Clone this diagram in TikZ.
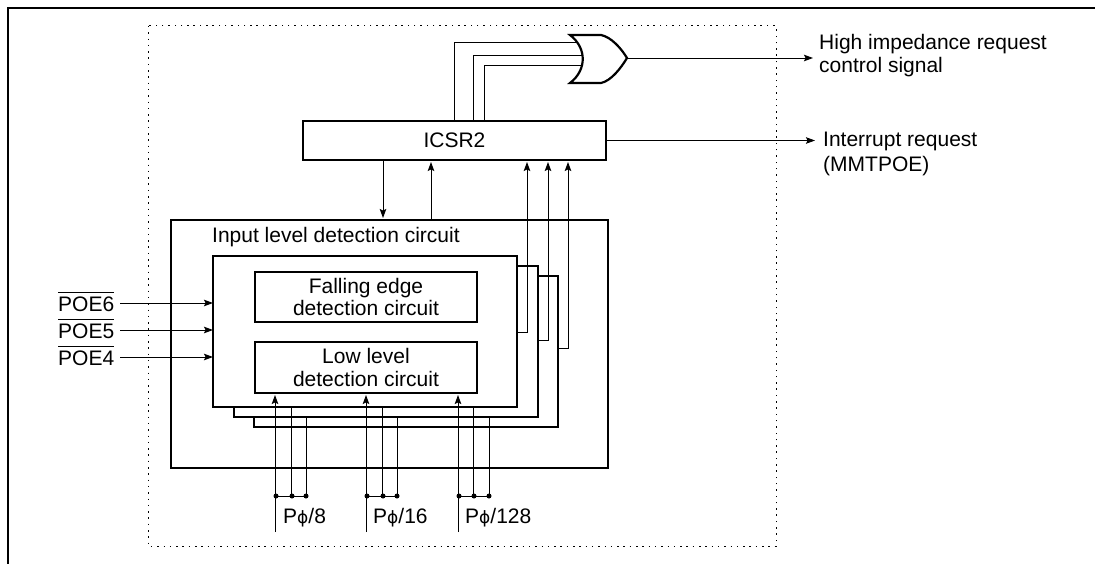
\documentclass[tikz,border=0pt]{standalone}
\usepackage{fontspec}
\setmainfont{Liberation Sans}
\newfontfamily\phifont{DejaVu Sans}
\usepackage{tikz}
\usetikzlibrary{arrows.meta, positioning, calc}

\newcommand{\Pphi}{P{\phifont\fontsize{17}{22}\selectfont\symbol{"03D5}}}
\newcommand{\poebar}[1]{$\overline{\rule{0pt}{17.5pt}\mbox{#1}}$}

\begin{document}
\begin{tikzpicture}[
    x=1pt, y=-1pt,
    box/.style={rectangle, draw, line width=2.2pt, fill=white, inner sep=0pt, outer sep=0pt, align=center, font=\fontsize{21}{22.5}\selectfont},
    boxat/.style args={#1/#2/#3/#4}{box, anchor=north west, minimum width=#3pt-#1pt, minimum height=#4pt-#2pt},
    txt/.style={inner sep=0pt, anchor=base west, align=left, font=\fontsize{21}{24}\selectfont},
    arrow/.style={-{Stealth[length=9pt, width=6.5pt, inset=1.5pt]}, line width=0.9pt},
    wire/.style={line width=0.9pt},
    dot/.style={circle, fill=black, inner sep=0pt, minimum size=5pt},
]
\useasboundingbox (0,0) rectangle (1095,564);

% frame and dotted border
\draw[line width=2.2pt] (8,564) -- (8,8) -- (1095,8);
\draw[line width=1pt, dash pattern=on 1.5pt off 4.8pt] (148,26) rectangle (776,546);

% ICSR2 and or gate
\node[boxat=303/121/606/160] (icsr) at (303,121) {ICSR2};
\draw[wire] (454,121) |- (578,42);
\draw[wire] (473,121) |- (582,55);
\draw[wire] (484,121) |- (582,65);
\draw[line width=2.2pt, fill=white] (570,35) .. controls (587,48) and (587,70) .. (570,83) -- (601,83)
    .. controls (611,81) and (621,68) .. (627,58) .. controls (621,48) and (611,37) .. (601,35) -- cycle;
\coordinate (orout) at (627,58);

% input level detection circuit
\node[boxat=171/220/608/468] (level) at (171,220) {};
\node[txt] (leveltxt) at (212,243) {Input level detection circuit};
\node[boxat=254/276/558/427] (stackc) at (254,276) {};
\node[boxat=234/266/538/417] (stackb) at (234,266) {};
\node[boxat=213/256/517/407] (stacka) at (213,256) {};
\node[boxat=255/272/477/322] (falling) at (255,272) {Falling edge\\detection circuit};
\node[boxat=255/342/477/393] (low) at (255,342) {Low level\\detection circuit};

\node[txt] (hiz) at (819,50) {High impedance request};
\node[txt] (hizb) at (819,73) {control signal};
\node[txt] (irq) at (823,147) {Interrupt request};
\node[txt] (irqb) at (823,171.5) {(MMTPOE)};
\draw[arrow] (orout) -- (813,58);
\draw[arrow] (icsr.east) -- (815,140.5);

\draw[arrow] (383,160) -- (383,218);
\draw[arrow] (431,220) -- (431,162);

\draw[arrow] (517,332) -| (527,162);
\draw[arrow] (538,340) -| (548,162);
\draw[arrow] (558,348) -| (568,162);

% POE inputs
\node[txt] (poesix) at (58,311) {\poebar{POE6}};
\node[txt] (poefive) at (58,338) {\poebar{POE5}};
\node[txt] (poefour) at (58,365) {\poebar{POE4}};
\draw[arrow] (120,303) -- (213,303);
\draw[arrow] (120,330) -- (213,330);
\draw[arrow] (120,357) -- (213,357);

% clock inputs
\foreach \x/\m/\name/\txt/\lx in {275/16/a/8/283, 366/16/b/16/373, 458/15/c/128/465}{
  \node[txt] (clk\name) at (\lx,523) {\Pphi/\txt};
  \draw[arrow] (\x,532) -- (\x,395);
  \draw[wire] (\x+\m,496) -- (\x+\m,407);
  \draw[wire] (\x+31,496) -- (\x+31,417);
  \draw[wire] (\x,496) -- (\x+31,496);
  \node[dot] (d\name1) at (\x+1,496) {};
  \node[dot] (d\name2) at (\x+\m+1,496) {};
  \node[dot] (d\name3) at (\x+31,496) {};
}

\end{tikzpicture}
\end{document}
